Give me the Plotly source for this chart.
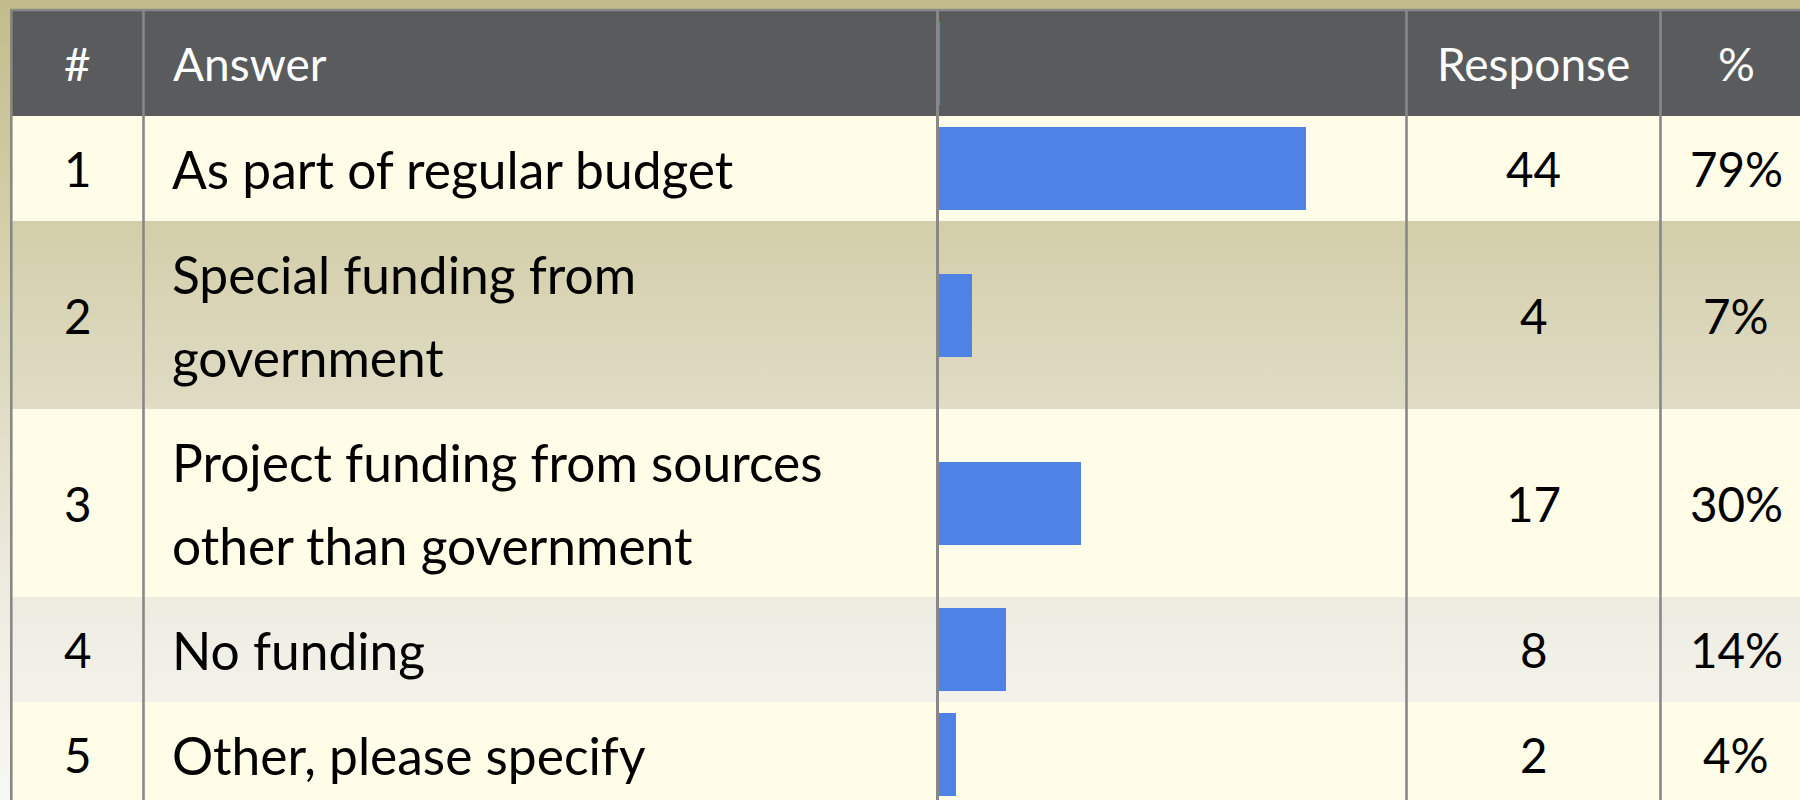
import plotly.graph_objects as go

# Survey results: how the activity is funded
numbers = [1, 2, 3, 4, 5]
answers = [
    "As part of regular budget",
    "Special funding from<br>government",
    "Project funding from sources<br>other than government",
    "No funding",
    "Other, please specify",
]
responses = [44, 4, 17, 8, 2]
percents = [79, 7, 30, 14, 4]
respondents = 56
headers = ["#", "Answer", "", "Response", "%"]

# Table geometry (pixels)
W, H = 1800, 800
TOP = 11
HEADER_H = 105
LINE_H = 83
BAR_H = 83
COL_EDGES = [12, 143.5, 937.5, 1406.5, 1660.5, 1812]
BAR_X0, BAR_X1 = 939, 1406

FONT = "Lato"
FS_HEAD = 46
FS_TEXT = 51.5
FS_NUM = 47.5
BAR_COLOR = "#4e82e4"
CREAM = "#fffde8"
HEADER_BG = "#5a5b5d"
RULE = "#888888"

fig = go.Figure()


def rect(x0, x1, y0, y1, **kw):
    fig.add_trace(go.Scatter(
        x=[x0, x1, x1, x0, x0], y=[y0, y0, y1, y1, y0],
        mode="lines", fill="toself", line=dict(width=0),
        hoverinfo="skip", showlegend=False, xaxis="x", yaxis="y", **kw))


# page background: olive fading to near-white
rect(0, W, 0, H, fillgradient=dict(
    type="vertical",
    colorscale=[[0, "#c2bc8b"], [0.276, "#d2cea9"], [0.51, "#e0dcc5"],
                [0.746, "#eeece1"], [0.875, "#f3f2ea"], [1, "#f7f7f3"]],
    start=0, stop=H))

# header band
rect(COL_EDGES[0], W, TOP, TOP + HEADER_H, fillcolor=HEADER_BG)

# body rows: odd rows cream, even rows let the background show through
row_centers, row_lines = [], []
y = TOP + HEADER_H
for i, ans in enumerate(answers):
    lines = ans.split("<br>")
    h = HEADER_H + LINE_H * (len(lines) - 1)
    row_centers.append(y + h / 2)
    row_lines.append(lines)
    if i % 2 == 0:
        rect(COL_EDGES[0], W, y, y + h, fillcolor=CREAM)
    y += h

# response bars, on their own axis scaled to the number of respondents
fig.add_trace(go.Bar(
    x=responses, y=row_centers, orientation="h", width=BAR_H,
    marker=dict(color=BAR_COLOR, line=dict(width=0)),
    xaxis="x2", yaxis="y2", hoverinfo="skip", showlegend=False))

shapes = []
# outer rules
shapes.append(dict(type="line", xref="x", yref="y", x0=11.3, x1=11.3, y0=9, y1=H,
                   line=dict(color=RULE, width=2.6), layer="above"))
shapes.append(dict(type="line", xref="x", yref="y", x0=10, x1=W, y0=10, y1=10,
                   line=dict(color=RULE, width=2.4), layer="above"))
# column dividers
for xe, wdt in zip(COL_EDGES[1:5], [2.6, 3, 2.6, 2.6]):
    shapes.append(dict(type="line", xref="x", yref="y", x0=xe, x1=xe, y0=10, y1=H,
                       line=dict(color=RULE, width=wdt), layer="above"))
# zero-length bar marker in the header
shapes.append(dict(type="line", xref="x", yref="y", x0=939.6, x1=939.6,
                   y0=TOP + (HEADER_H - BAR_H) / 2, y1=TOP + (HEADER_H + BAR_H) / 2,
                   line=dict(color=BAR_COLOR, width=1.2), layer="above"))

annotations = []


def text(x, yy, s, color, size, anchor="center"):
    annotations.append(dict(
        x=x, y=yy, xref="x", yref="y", text=s, showarrow=False,
        xanchor=anchor, yanchor="middle",
        font=dict(family=FONT, size=size, color=color)))


num_cx = (COL_EDGES[0] + COL_EDGES[1]) / 2
resp_cx = (COL_EDGES[3] + COL_EDGES[4]) / 2
pct_cx = (COL_EDGES[4] + COL_EDGES[5]) / 2
ans_x = 170

hy = TOP + HEADER_H / 2
text(num_cx, hy, headers[0], "white", FS_HEAD)
text(ans_x + 1, hy, headers[1], "white", FS_HEAD, "left")
text(resp_cx, hy, headers[3], "white", FS_HEAD)
text(pct_cx, hy, headers[4], "white", FS_HEAD)

for n, lines, cy, r, p in zip(numbers, row_lines, row_centers, responses, percents):
    text(num_cx, cy, str(n), "black", FS_NUM)
    k = len(lines)
    for j, ln in enumerate(lines):
        text(ans_x, cy + (j - (k - 1) / 2) * LINE_H, ln, "black", FS_TEXT, "left")
    text(resp_cx, cy, str(r), "black", FS_NUM)
    text(pct_cx, cy, f"{p}%", "black", FS_NUM)

fig.update_layout(
    width=W, height=H,
    margin=dict(l=0, r=0, t=0, b=0, pad=0),
    paper_bgcolor="#f7f7f3", plot_bgcolor="rgba(0,0,0,0)",
    showlegend=False, bargap=0,
    xaxis=dict(range=[0, W], domain=[0, 1], visible=False, fixedrange=True),
    yaxis=dict(range=[H, 0], domain=[0, 1], visible=False, fixedrange=True),
    xaxis2=dict(range=[0, respondents], domain=[BAR_X0 / W, BAR_X1 / W],
                anchor="y2", visible=False, fixedrange=True),
    yaxis2=dict(range=[H, 0], domain=[0, 1], anchor="x2",
                visible=False, fixedrange=True),
    shapes=shapes, annotations=annotations,
)

fig.write_html("out.html", config={"displayModeBar": False})
